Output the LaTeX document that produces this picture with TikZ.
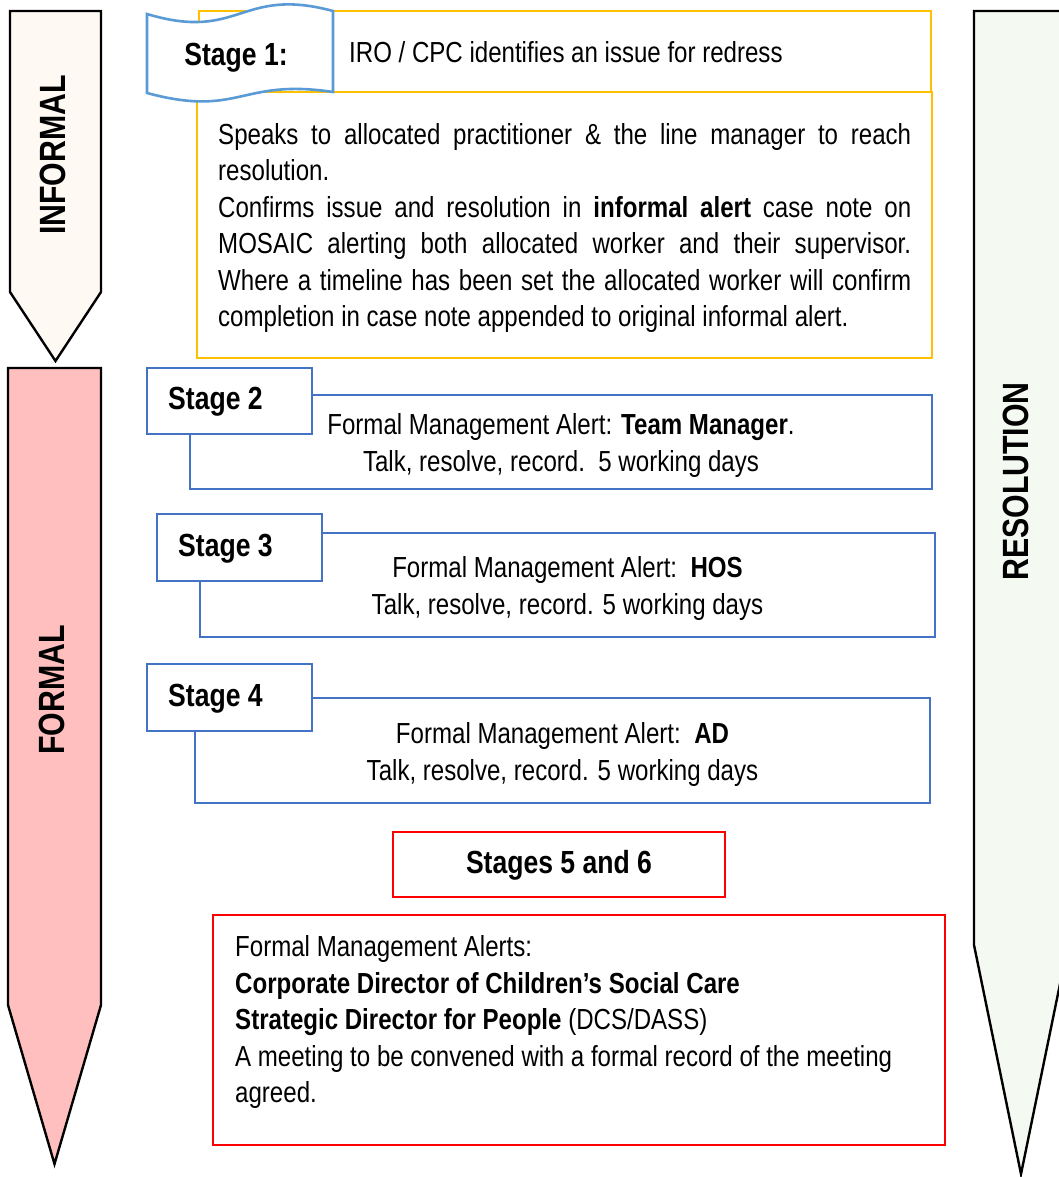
\documentclass[tikz,border=0pt]{standalone}
\usepackage{fontspec}
\setmainfont{Liberation Sans}[FakeStretch=0.83]

\definecolor{creamfill}{HTML}{FEF9F2}
\definecolor{pinkfill}{HTML}{FFBFBF}
\definecolor{greenfill}{HTML}{F4F9F1}
\definecolor{stageyellow}{HTML}{FFC000}
\definecolor{stageblue}{HTML}{4472C4}
\definecolor{tapeblue}{HTML}{5B9BD5}
\definecolor{alertred}{HTML}{FF0000}

\tikzset{
  phasearrow/.style={draw=black, line width=2.4pt, line join=miter},
  phaseword/.style={inner sep=0pt, rotate=90, font=\bfseries\fontsize{36.5}{40}\selectfont},
  yellowbox/.style={draw=stageyellow, line width=2.2pt},
  bluebox/.style={draw=stageblue, line width=2.4pt},
  labelbox/.style={draw=stageblue, line width=2.4pt, fill=white},
  redbox/.style={draw=alertred, line width=2.6pt},
  bodytext/.style={inner sep=0pt, font=\fontsize{29}{36.5}\selectfont},
  stagelabel/.style={inner sep=0pt, font=\bfseries\fontsize{32}{38}\selectfont},
}

\begin{document}
\begin{tikzpicture}[x=1pt,y=-1pt]
\useasboundingbox (0,0) rectangle (1059,1177);

% phase arrows
\draw[phasearrow, fill=creamfill] (10,11) -- (101,11) -- (101,292) -- (55.5,361) -- (10,292) -- cycle;
\draw[phasearrow, fill=pinkfill] (8,368) -- (101,368) -- (101,1005) -- (54.5,1164) -- (8,1005) -- cycle;
\begin{scope}
  \clip (0,0) rectangle (1059,1177);
  \draw[phasearrow, fill=greenfill] (974,11) -- (1068,11) -- (1068,945) -- (1021,1174) -- (974,945) -- cycle;
\end{scope}
\node[phaseword] (informal) at (53,155) {INFORMAL};
\node[phaseword] (formal) at (52,690) {FORMAL};
\node[phaseword] (resolution) at (1016,481.5) {RESOLUTION};

% stage 1
\draw[yellowbox] (199,11) rectangle (931,92);
\draw[yellowbox] (197,92) rectangle (932,358);
\draw[draw=tapeblue, line width=2.6pt, fill=white]
  (147,14) .. controls (240,42) and (240,-14) .. (333,11)
  -- (333,92) .. controls (240,78) and (240,118) .. (147,93) -- cycle;
\node[stagelabel, anchor=base] (s1label) at (236,65.5) {Stage 1:};
\node[bodytext, anchor=base west] (s1issue) at (349,62.5) {IRO / CPC identifies an issue for redress};
\node[bodytext, anchor=base west, text width=693pt, align=justify] (s1body) at (218,144.5)
  {Speaks to allocated practitioner \& the line manager to reach\linebreak resolution.\par
   Confirms issue and resolution in \textbf{informal alert} case note on\linebreak
   MOSAIC alerting both allocated worker and their supervisor.\linebreak
   Where a timeline has been set the allocated worker will confirm\linebreak
   completion in case note appended to original informal alert.};

% stage 2
\draw[bluebox] (190,395) rectangle (932,489);
\draw[labelbox] (147,368) rectangle (312,434);
\node[stagelabel, anchor=base west] (s2label) at (168,409.5) {Stage 2};
\node[bodytext, anchor=base, text width=742pt, align=flush center] (s2text) at (561,434.5)
  {Formal Management Alert: \textbf{Team Manager}.\\ Talk, resolve, record.\ \ 5 working days};

% stage 3
\draw[bluebox] (200,533) rectangle (935,637);
\draw[labelbox] (157,514) rectangle (322,581);
\node[stagelabel, anchor=base west] (s3label) at (178,556.5) {Stage 3};
\node[bodytext, anchor=base, text width=735pt, align=flush center] (s3text) at (567.5,577.5)
  {Formal Management Alert:\ \ \textbf{HOS}\\ Talk, resolve, record. 5 working days};

% stage 4
\draw[bluebox] (195,698) rectangle (930,803);
\draw[labelbox] (147,664) rectangle (312,731);
\node[stagelabel, anchor=base west] (s4label) at (168,706.5) {Stage 4};
\node[bodytext, anchor=base, text width=735pt, align=flush center] (s4text) at (562.5,743.5)
  {Formal Management Alert:\ \ \textbf{AD}\\ Talk, resolve, record. 5 working days};

% stages 5 and 6
\draw[redbox] (393,832) rectangle (725,897);
\node[stagelabel, anchor=base] (s56label) at (559,873.5) {Stages 5 and 6};
\draw[redbox] (213,915) rectangle (945,1145);
\node[bodytext, anchor=base west, text width=700pt, align=flush left] (s56text) at (235,956.5)
  {Formal Management Alerts:\\
   \textbf{Corporate Director of Children’s Social Care}\\
   \textbf{Strategic Director for People} (DCS/DASS)\\
   A meeting to be convened with a formal record of the meeting\\
   agreed.};
\end{tikzpicture}
\end{document}
